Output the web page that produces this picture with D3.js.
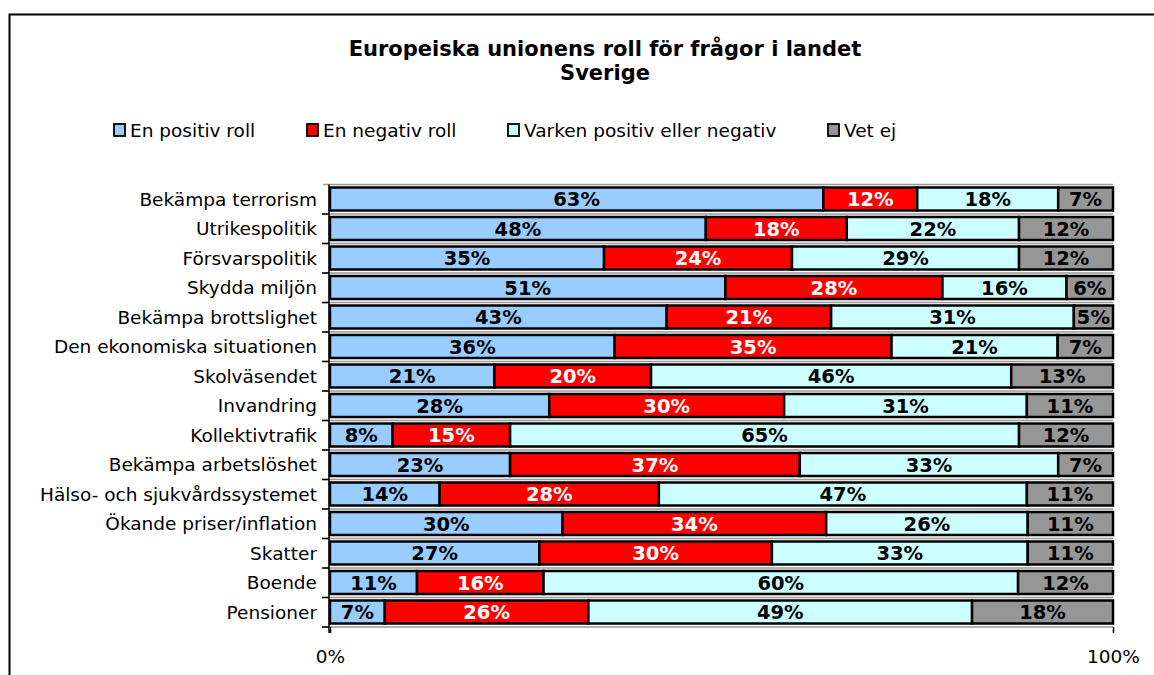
<!DOCTYPE html>
<html><head><meta charset="utf-8">
<script src="https://cdn.jsdelivr.net/npm/d3@7/dist/d3.min.js"></script>
<style>body{margin:0;background:#fff}svg{display:block}</style>
</head><body>
<svg id="c" width="1154" height="675"></svg>
<script>
const categories = ["Bekämpa terrorism","Utrikespolitik","Försvarspolitik","Skydda miljön","Bekämpa brottslighet","Den ekonomiska situationen","Skolväsendet","Invandring","Kollektivtrafik","Bekämpa arbetslöshet","Hälso- och sjukvårdssystemet","Ökande priser/inflation","Skatter","Boende","Pensioner"];
const seriesNames = ["En positiv roll","En negativ roll","Varken positiv eller negativ","Vet ej"];
const positiv = [63,48,35,51,43,36,21,28,8,23,14,30,27,11,7];
const negativ = [12,18,24,28,21,35,20,30,15,37,28,34,30,16,26];
const varken  = [18,22,29,16,31,21,46,31,65,33,47,26,33,60,49];
const vetej   = [7,12,12,6,5,7,13,11,12,7,11,11,11,12,18];
const xTicks = [0,1];
const colors = ["#99CCFF","#FF0000","#CCFFFF","#969696"];
const labelColors = ["#000","#fff","#000","#000"];

const svg = d3.select("#c");
const font = "'DejaVu Sans', Verdana, sans-serif";
svg.append("rect").attr("x",9.5).attr("y",14.5).attr("width",1200).attr("height",700)
  .attr("fill","none").attr("stroke","#000").attr("stroke-width",2);

svg.append("text").attr("x",605).attr("y",56).attr("text-anchor","middle")
  .attr("font-family",font).attr("font-weight","bold").attr("font-size",21).text("Europeiska unionens roll för frågor i landet");
svg.append("text").attr("x",605).attr("y",80).attr("text-anchor","middle")
  .attr("font-family",font).attr("font-weight","bold").attr("font-size",21).text("Sverige");

const legX = [114,307,508,828];
const leg = svg.append("g");
seriesNames.forEach((n,i)=>{
  leg.append("rect").attr("x",legX[i]).attr("y",124).attr("width",11).attr("height",12)
    .attr("fill",colors[i]).attr("stroke","#000").attr("stroke-width",1.8);
  leg.append("text").attr("x",legX[i]+16).attr("y",137).attr("font-family",font)
    .attr("font-size",18.5).text(n);
});

const data = categories.map((c,i)=>{
  const vals=[positiv[i],negativ[i],varken[i],vetej[i]];
  const tot=d3.sum(vals);
  let acc=0;
  return {c, segs: vals.map((v,k)=>{const s={k,v,x0:acc/tot,x1:(acc+v)/tot};acc+=v;return s;})};
});

const x = d3.scaleLinear().domain([0,1]).range([330,1113]);
const y = d3.scaleBand().domain(categories).range([184.5,627]).paddingInner(0).paddingOuter(0);

const g = svg.append("g");
categories.forEach((c,i)=>{
  g.append("line").attr("x1",323).attr("x2",x(1)).attr("y1",y(c)).attr("y2",y(c))
    .attr("stroke","#999").attr("stroke-width",1.5);
});
g.append("line").attr("x1",323).attr("x2",x(1)).attr("y1",627).attr("y2",627)
    .attr("stroke","#999").attr("stroke-width",1.5);

const bh = 23;
data.forEach(d=>{
  const y0 = y(d.c)+3;
  d.segs.forEach(s=>{
    g.append("rect").attr("x",x(s.x0)).attr("y",y0).attr("width",x(s.x1)-x(s.x0)).attr("height",bh)
      .attr("fill",colors[s.k]).attr("stroke","#000").attr("stroke-width",2.5);
  });
  d.segs.forEach(s=>{
    g.append("text").attr("x",(x(s.x0)+x(s.x1))/2).attr("y",y0+bh/2+7).attr("text-anchor","middle")
      .attr("font-family",font).attr("font-weight","bold").attr("font-size",19.5)
      .attr("fill",labelColors[s.k]).text(s.v+"%");
  });
});

const yAxis = d3.axisLeft(y).tickSize(0).tickPadding(13);
const ya = svg.append("g").attr("transform","translate(330,0)").call(yAxis);
ya.select(".domain").remove();
ya.selectAll("text").attr("font-family",font).attr("font-size",18.5).attr("fill","#000").attr("dy","0.36em");
svg.append("line").attr("x1",329).attr("x2",329).attr("y1",184.5).attr("y2",633).attr("stroke","#000").attr("stroke-width",1.5);
categories.forEach(c=>{
  svg.append("line").attr("x1",322).attr("x2",329).attr("y1",y(c)+y.bandwidth()).attr("y2",y(c)+y.bandwidth())
    .attr("stroke","#000").attr("stroke-width",1.5);
});

const xAxis = d3.axisBottom(x).tickValues(xTicks).tickFormat(d3.format(".0%")).tickSize(6).tickPadding(17);
const xa = svg.append("g").attr("transform","translate(0,627)").call(xAxis);
xa.select(".domain").remove();
xa.selectAll("line").attr("stroke","#000").attr("stroke-width",1.5);
xa.selectAll("text").attr("font-family",font).attr("font-size",18.5).attr("fill","#000");
</script>
</body></html>
